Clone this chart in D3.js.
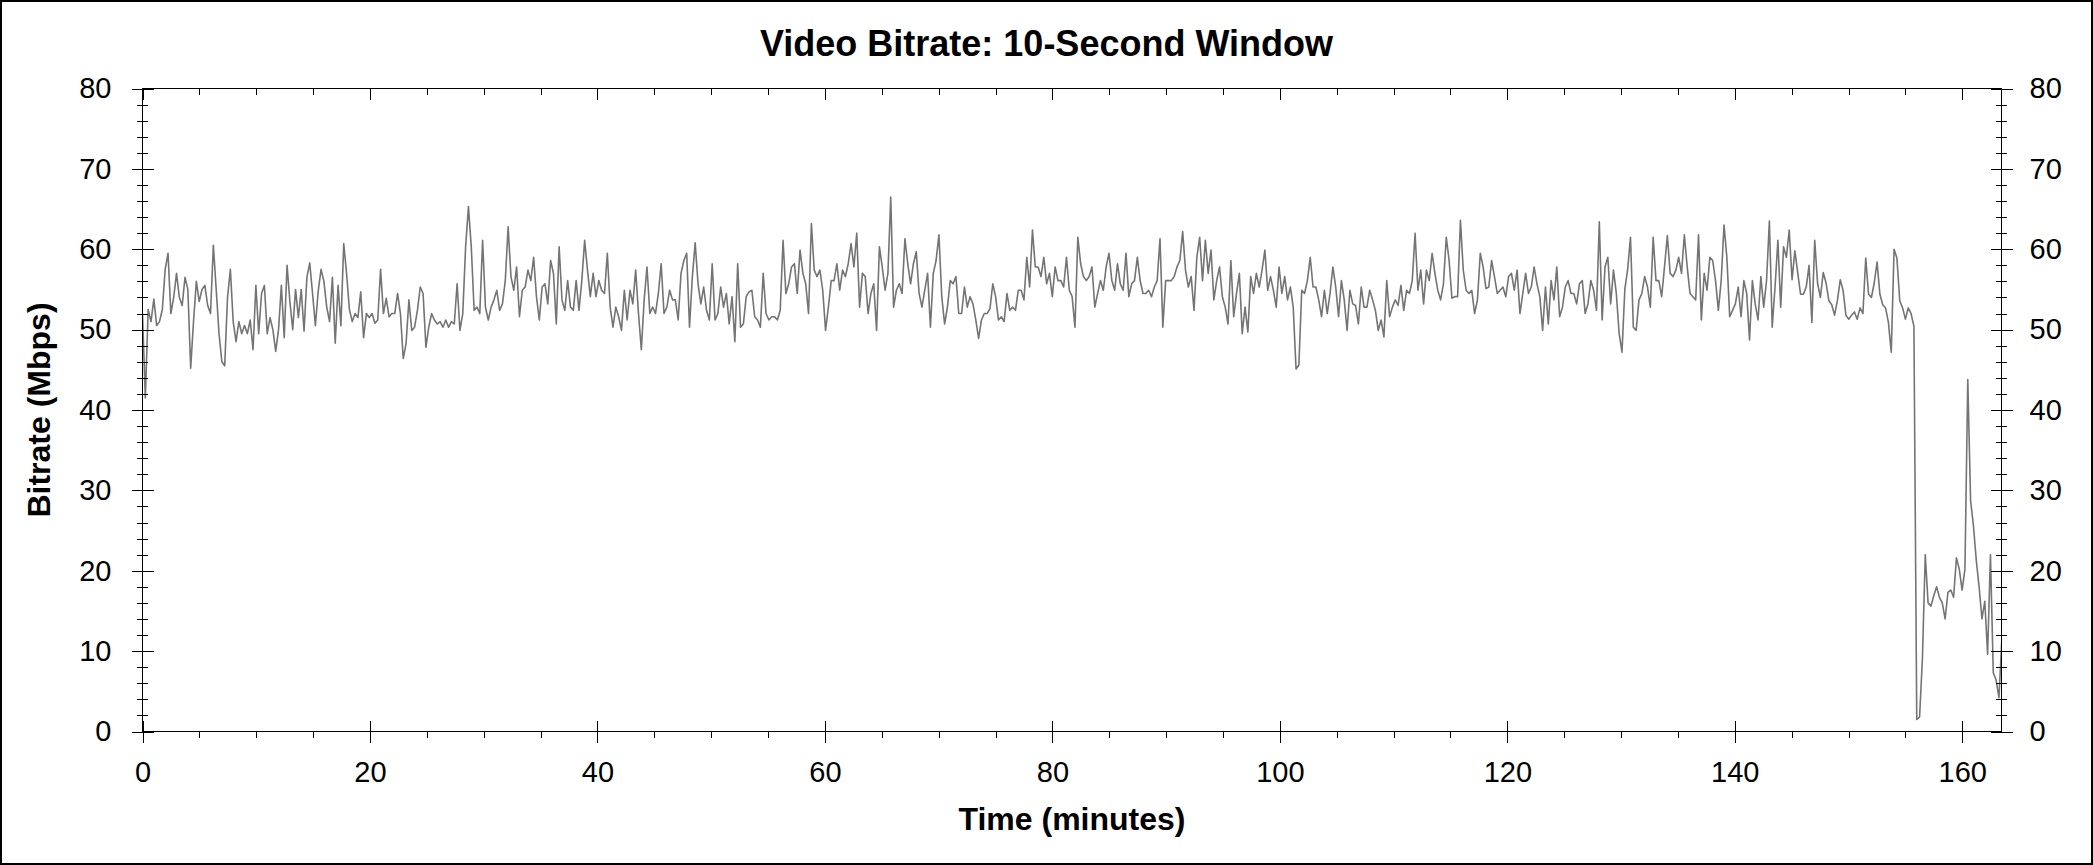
<!DOCTYPE html>
<html>
<head>
<meta charset="utf-8">
<script src="https://cdn.jsdelivr.net/npm/d3@7"></script>
<style>
  body { margin: 0; background: #fff; }
  svg { display: block; font-family: "Liberation Sans", Arial, sans-serif; }
</style>
</head>
<body>
<svg id="chart" width="2093" height="865"></svg>
<script>
const title = 'Video Bitrate: 10-Second Window';
const xLabel = 'Time (minutes)';
const yLabel = 'Bitrate (Mbps)';

const xTickValues = [0, 20, 40, 60, 80, 100, 120, 140, 160];
const yTickValues = [0, 10, 20, 30, 40, 50, 60, 70, 80];
const xMax = 163.45;
const yMax = 80;

// one reading every ~15 s (0.2492 min)
const STEP_MIN = 0.2492;

// Mbps, minutes 0 - 20.4
const bitrateA = [
  52, 41.5, 52.5, 51, 53.8, 50.5, 51, 52.5, 57.5, 59.5,
  52, 54, 57, 54, 53, 56.5, 55, 45.2, 51, 56,
  53.5, 55, 55.5, 53, 52, 60.5, 55, 49.5, 46, 45.5,
  54, 57.5, 51, 48.5, 51, 49.5, 50.5, 49.5, 51.2, 47.5,
  55.5, 49.5, 54.5, 55.5, 49.5, 51.5, 50, 47.3, 50, 55.5,
  49, 58, 53.5, 50, 55, 51.5, 55, 49.8, 56.5, 58.3,
  54.5, 50.5, 54.8, 57.5, 56, 52.8, 51, 56.5, 48.3, 55.5,
  50.5, 60.7, 57, 52.5, 51, 52, 51.5, 54.7, 49, 52,
  51.5, 52, 50.8
];

// minutes 20.7 - 41.1
const bitrateB = [
  51.2, 57.5, 52, 53.9, 51.6, 52, 52, 54.5, 52, 46.4,
  48.3, 53.7, 49.9, 50.3, 52.4, 55.3, 54.5, 47.8, 50.3, 52,
  51.2, 50.7, 51, 50.3, 51.2, 50.3, 51, 50.7, 55.7, 49.9,
  52, 60.3, 65.3, 60.3, 52.4, 52.8, 52, 61.1, 52.8, 51.2,
  52.8, 53.7, 54.9, 52.4, 53.2, 56.1, 62.8, 56.6, 54.9, 57.8,
  51.6, 54.9, 55.3, 57.4, 56.1, 59, 54.1, 51.2, 55.3, 55.7,
  53.2, 58.6, 57, 50.7, 60.3, 53.7, 52.4, 56.1, 52.8, 52.4,
  56.1, 52.4, 56.1, 61.1, 57.4, 54.1, 57, 54.1, 56.1, 54.9,
  54.5, 59.5, 52.8
];

// minutes 41.4 - 61.8
const bitrateC = [
  50.3, 52.8, 51.6, 49.9, 54.9, 51.2, 54.9, 53.2, 57.4, 52,
  47.5, 53.7, 57.8, 52, 52.8, 52, 54.5, 58.2, 52, 52.8,
  54.9, 53.7, 53.7, 51.2, 57, 58.6, 59.5, 50.3, 56.6, 60.8,
  55.7, 53.2, 55.3, 52.4, 51.2, 58.2, 51.2, 52, 55.3, 52.8,
  54.5, 50.7, 54.1, 48.5, 58.2, 50.3, 50.7, 54.1, 54.7, 54.9,
  51.6, 51.2, 50.3, 57, 52, 51.2, 51.6, 51.6, 51.2, 52.4,
  61.1, 54.5, 55.7, 57.8, 58.2, 54.5, 59.9, 57, 55.7, 52,
  63.2, 57.4, 56.6, 57.4, 54.9, 49.9, 52.8, 56.1, 56.1, 58.2,
  54.9, 57.4, 56.6
];

// minutes 62.0 - 82.5
const bitrateD = [
  58.2, 60.7, 57.8, 62, 52.8, 57, 56.6, 52, 54.5, 55.7,
  49.9, 60.3, 57.8, 54.9, 57, 66.5, 52.8, 54.9, 55.7, 54.5,
  61.3, 58.2, 55.7, 58.2, 59.7, 54.5, 52.8, 54.9, 57, 50.3,
  57, 58.6, 61.8, 54.1, 50.7, 52.8, 56.1, 55.7, 56.6, 52,
  52, 55.3, 52.8, 54.1, 53.2, 51.2, 48.9, 51.2, 52, 52,
  52.6, 55.7, 54.1, 51.2, 51.6, 51, 54.5, 52.4, 52.8, 52.4,
  54.9, 54.9, 53.7, 59, 55.3, 62.4, 57.8, 57.8, 56.6, 59,
  55.7, 57, 54.1, 57.8, 56.1, 56.1, 55.3, 59, 54.9, 54.1,
  50.3, 61.5, 58.2
];

// minutes 82.7 - 103.1
const bitrateE = [
  56.6, 56.1, 56.6, 57.8, 52.8, 54.5, 56.1, 54.9, 57.8, 59.5,
  56.1, 54.9, 58.2, 55.7, 54.9, 59.5, 54.1, 55.7, 56.1, 59,
  56.1, 54.5, 54.5, 54.9, 54.1, 55.3, 56.1, 61.3, 50.3, 56.1,
  56.1, 56.1, 56.6, 57.8, 58.6, 62.2, 57.4, 55.3, 56.6, 52.4,
  59, 61.5, 56.1, 61.1, 57, 59.9, 53.7, 56.1, 57.8, 54.1,
  52.8, 50.7, 58.6, 51.6, 54.5, 57, 49.5, 52.8, 49.7, 56.6,
  54.5, 57, 55.3, 57.4, 59.9, 54.9, 56.6, 54.9, 52.8, 57.8,
  54.5, 56.6, 53.7, 55.3, 52.8, 45.1, 45.6, 54.9, 54.5, 56.1,
  59, 55.3, 55.3
];

// minutes 103.4 - 123.8
const bitrateF = [
  53.7, 51.6, 54.9, 52, 54.5, 57.8, 55.3, 51.6, 56.1, 53.7,
  49.9, 54.9, 53.2, 53, 50.7, 55.3, 52.8, 52.8, 54.9, 53.7,
  52.4, 49.9, 51.2, 49.1, 56.1, 51.6, 52.8, 53.7, 53, 55.5,
  52.4, 54.9, 54.5, 56.1, 62, 54.9, 57.4, 53.2, 57.4, 56.1,
  59.5, 57, 54.9, 53.7, 55.7, 61.5, 58.6, 53.9, 54.1, 54.1,
  63.6, 57.4, 54.9, 54.5, 54.9, 52, 53.7, 59.5, 57.8, 55.1,
  55.3, 58.6, 56.6, 54.5, 54.9, 55.3, 54.1, 56.6, 57, 54.9,
  57.4, 52, 54.5, 57, 54.5, 55.3, 57.8, 55.7, 54.1, 49.9,
  55.3, 50.7, 56.1
];

// minutes 124.1 - 144.5
const bitrateG = [
  53.7, 57.8, 51.6, 52.8, 55.3, 56.1, 54.5, 54.5, 53.2, 55.7,
  56.1, 52, 53.2, 56.1, 54.9, 52.4, 63.4, 51.2, 57.8, 59,
  53.2, 57.4, 54.5, 49.5, 47.2, 55, 57.5, 61.5, 50.3, 49.9,
  53.7, 54.5, 56.6, 55.3, 52.8, 61.5, 56.1, 56.1, 54.1, 57.8,
  61.7, 57, 56.6, 57.4, 59, 57, 61.8, 57.8, 54.5, 54.1,
  53.7, 61.8, 51.2, 57, 54.9, 59, 58.6, 56.1, 52.4, 56.1,
  63, 59, 51.6, 52.4, 53.2, 55.3, 51.6, 56.1, 54.5, 48.7,
  56.1, 53.2, 51.2, 56.6, 52.8, 56.1, 63.5, 50.3, 55.3, 61.1,
  52.8, 60.3, 59
];

// minutes 144.8 - end (drop after 155.6)
const bitrateH = [
  62.4, 56.2,
  59.8, 57.1, 54.4, 54.4, 55.3, 58, 50.9, 61.1, 55.8, 54,
  57.1, 55.8, 53.6, 53.1, 51.8, 53.6, 56.2, 54.9, 51.8, 51.3,
  51.8, 52.2, 51.3, 52.7, 52, 58.9, 54.4, 54, 55.8, 58.4,
  54.4, 53.1, 52.7, 50.9, 47.2, 60, 58.9, 53.6, 52.7, 51.3,
  52.7, 52, 50.4, 1.5, 1.8, 9.1, 22, 16, 15.6, 16.9,
  18, 16.7, 16, 14, 17.3, 17.6, 16.7, 21.6, 20.2, 17.6,
  20.2, 43.8, 28.7, 25.6, 21.3, 18, 14, 16.2, 9.6, 22,
  7.3, 6.4, 4.2, 11.3
];

const bitrate = [].concat(bitrateA, bitrateB, bitrateC, bitrateD,
                          bitrateE, bitrateF, bitrateG, bitrateH);

var width = 2093,
    height = 865,
    plot = {left: 142.5, right: 2001.5, top: 88.5, bottom: 731.5};

var svg = d3.select('#chart');

svg.append('rect')
  .attr('x', 1).attr('y', 1)
  .attr('width', width - 2).attr('height', height - 2)
  .attr('fill', '#fff')
  .attr('stroke', '#000')
  .attr('stroke-width', 2);

var xScale = d3.scaleLinear()
  .domain([0, xMax])
  .range([plot.left, plot.right]);

var yScale = d3.scaleLinear()
  .domain([0, yMax])
  .range([plot.bottom, plot.top]);

var xMinor = d3.range(0, xMax, 5).filter(d => d % 20 !== 0);
var yMinor = d3.range(0, yMax, 2).filter(d => d % 10 !== 0);

// data line
svg.append('clipPath')
  .attr('id', 'plotclip')
  .append('rect')
  .attr('x', plot.left).attr('y', plot.top - 2)
  .attr('width', plot.right - plot.left)
  .attr('height', plot.bottom - plot.top + 2);

var bitrateLine = d3.line()
  .x((d, i) => xScale(i * STEP_MIN))
  .y(d => yScale(d));

svg.append('path')
  .datum(bitrate)
  .attr('clip-path', 'url(#plotclip)')
  .attr('fill', 'none')
  .attr('stroke', '#747474')
  .attr('stroke-width', 1.6)
  .attr('stroke-linejoin', 'round')
  .attr('d', bitrateLine);

var tickFont = function(g) {
  g.attr('font-family', null).attr('font-size', null);
  g.selectAll('text')
    .attr('font-size', '29px')
    .attr('fill', '#000');
  g.selectAll('line')
    .attr('stroke', '#000')
    .attr('shape-rendering', 'crispEdges');
  g.select('.domain').remove();
};

// bottom axis: major ticks cross the line, minor ticks point out
svg.append('g')
  .attr('transform', `translate(0, ${plot.bottom})`)
  .call(d3.axisBottom(xScale).tickValues(xTickValues).tickSize(11).tickFormat(d3.format('d')))
  .call(tickFont)
  .call(g => g.selectAll('.tick line').attr('y1', -11))
  .call(g => g.selectAll('.tick text').attr('y', 50).attr('dy', 0));

svg.append('g')
  .attr('transform', `translate(0, ${plot.bottom})`)
  .call(d3.axisBottom(xScale).tickValues(xMinor).tickSize(6).tickFormat(''))
  .call(tickFont);

// top axis: ticks point into the plot
svg.append('g')
  .attr('transform', `translate(0, ${plot.top})`)
  .call(d3.axisBottom(xScale).tickValues(xTickValues).tickSize(11).tickFormat(''))
  .call(tickFont);

svg.append('g')
  .attr('transform', `translate(0, ${plot.top})`)
  .call(d3.axisBottom(xScale).tickValues(xMinor).tickSize(6).tickFormat(''))
  .call(tickFont);

// left and right axes, ticks cross the line
svg.append('g')
  .attr('transform', `translate(${plot.left}, 0)`)
  .call(d3.axisLeft(yScale).tickValues(yTickValues).tickSize(11).tickPadding(20))
  .call(tickFont)
  .call(g => g.selectAll('.tick line').attr('x1', 11));

svg.append('g')
  .attr('transform', `translate(${plot.left}, 0)`)
  .call(d3.axisLeft(yScale).tickValues(yMinor).tickSize(5.5).tickFormat(''))
  .call(tickFont)
  .call(g => g.selectAll('.tick line').attr('x1', 5.5));

svg.append('g')
  .attr('transform', `translate(${plot.right}, 0)`)
  .call(d3.axisRight(yScale).tickValues(yTickValues).tickSize(11).tickPadding(17))
  .call(tickFont)
  .call(g => g.selectAll('.tick line').attr('x1', -11));

svg.append('g')
  .attr('transform', `translate(${plot.right}, 0)`)
  .call(d3.axisRight(yScale).tickValues(yMinor).tickSize(5.5).tickFormat(''))
  .call(tickFont)
  .call(g => g.selectAll('.tick line').attr('x1', -5.5));

// frame
svg.append('rect')
  .attr('x', plot.left).attr('y', plot.top)
  .attr('width', plot.right - plot.left)
  .attr('height', plot.bottom - plot.top)
  .attr('fill', 'none')
  .attr('stroke', '#000')
  .attr('shape-rendering', 'crispEdges');

// labels
svg.append('text')
  .attr('x', width / 2)
  .attr('y', 56)
  .attr('text-anchor', 'middle')
  .attr('font-size', '36px')
  .attr('font-weight', 'bold')
  .text(title);

svg.append('text')
  .attr('x', (plot.left + plot.right) / 2)
  .attr('y', 830)
  .attr('text-anchor', 'middle')
  .attr('font-size', '32px')
  .attr('font-weight', 'bold')
  .text(xLabel);

svg.append('text')
  .attr('transform', `translate(50, ${(plot.top + plot.bottom) / 2}) rotate(-90)`)
  .attr('text-anchor', 'middle')
  .attr('font-size', '32px')
  .attr('font-weight', 'bold')
  .text(yLabel);
</script>
</body>
</html>
